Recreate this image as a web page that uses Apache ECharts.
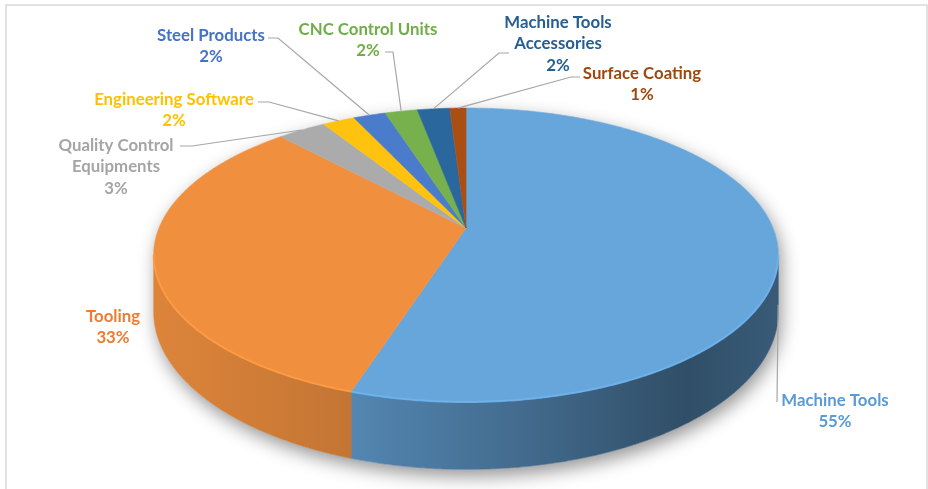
<!DOCTYPE html>
<html><head><meta charset="utf-8">
<script src="https://cdn.jsdelivr.net/npm/echarts@6/dist/echarts.min.js"></script>
<style>html,body{margin:0;padding:0;background:#fff}#c{width:928px;height:489px}</style>
</head><body><div id="c"></div>
<script>
// ---- data ----
const categories = ['Machine Tools', 'Tooling', 'Quality Control\nEquipments', 'Engineering Software',
  'Steel Products', 'CNC Control Units', 'Machine Tools\nAccessories', 'Surface Coating'];
const values = [55, 33, 3, 2, 2, 2, 2, 1];

// ---- styles ----
const topColors = ['#67A6DB', '#F0903F', '#ABABAB', '#FFC20E', '#4A7CCB', '#76B14D', '#2A679C', '#A94F14'];
const labelColors = ['#5B9BD5', '#ED7D31', '#A5A5A5', '#FFC000', '#4472C4', '#70AD47', '#255E91', '#9E480E'];
// label layout: centre x / first-line centre y, leader anchor, horizontal stub, end on bottom rim
const labelLayout = [
  { x: 835, y: 400, anchor: [777, 402], hseg: 0, bottom: true },
  { x: 113, y: 316, anchor: null },
  { x: 116, y: 145, anchor: [180, 146], hseg: 12 },
  { x: 174, y: 99, anchor: [258, 102], hseg: 11 },
  { x: 211, y: 35, anchor: [268, 38], hseg: 10 },
  { x: 368, y: 29, anchor: [385, 52], hseg: 8 },
  { x: 558, y: 22, anchor: [509, 53], hseg: -10 },
  { x: 642, y: 73, anchor: [580, 77], hseg: -9 }
];

// ---- projection geometry (perspective 3D pie) ----
const CX = 466, CY = 228, A = 307, B = 142, K = 0.1837, H = 55;
const TS1 = Math.acos(-K), TS2 = 2 * Math.PI - Math.acos(-K);
const total = values.reduce((s, v) => s + v, 0);
const starts = [];
values.reduce((s, v, i) => { starts[i] = s; return s + v; }, 0);

function proj(t, h) {
  const u = Math.sin(t), v = -Math.cos(t), w = 1 - K * v;
  return [CX + A * u / w, CY + (B * v + H * h) / w];
}
function arc(a, b, h) {
  const pts = [];
  const n = Math.max(2, Math.ceil(Math.abs(b - a) / (Math.PI / 360)));
  for (let i = 0; i <= n; i++) pts.push(proj(a + (b - a) * i / n, h));
  return pts;
}
function shade(hex, f) {
  const n = parseInt(hex.slice(1), 16);
  const r = Math.min(255, Math.round(((n >> 16) & 255) * f));
  const g = Math.min(255, Math.round(((n >> 8) & 255) * f));
  const b = Math.min(255, Math.round((n & 255) * f));
  return 'rgb(' + r + ',' + g + ',' + b + ')';
}

const chart = echarts.init(document.getElementById('c'), null, { renderer: 'canvas' });

function renderItem(params, api) {
  const i = params.dataIndex;
  const val = api.value(0), start = api.value(1);
  const a = start / total * 2 * Math.PI, b = (start + val) / total * 2 * Math.PI;
  const col = topColors[i];
  const children = [];
  if (i === 0) {
    const outline = arc(TS2, TS1 + 2 * Math.PI, 0).concat(arc(TS1, TS2, 1));
    children.push({
      type: 'polygon', z2: 0, shape: { points: outline },
      style: { fill: '#fff', shadowBlur: 18, shadowColor: 'rgba(0,0,0,0.42)', shadowOffsetY: 7, shadowOffsetX: 3 }
    });
  }
  const s = Math.max(a, TS1), e = Math.min(b, TS2);
  if (e > s) {
    const pts = arc(s, e, 0).concat(arc(s, e, 1).reverse());
    const grad = new echarts.graphic.LinearGradient(CX - A * 1.02, 0, CX + A * 1.02, 0, [
      { offset: 0, color: shade(col, 0.92) },
      { offset: 0.3, color: shade(col, 0.82) },
      { offset: 0.6, color: shade(col, 0.64) },
      { offset: 0.85, color: shade(col, 0.47) },
      { offset: 1, color: shade(col, 0.55) }
    ], true);
    children.push({ type: 'polygon', z2: 1, shape: { points: pts }, style: { fill: grad, stroke: grad, lineWidth: 0.6 } });
  }
  const topPts = [[CX, CY]].concat(arc(a, b, 0));
  children.push({ type: 'polygon', z2: 2, shape: { points: topPts }, style: { fill: col, stroke: col, lineWidth: 0.6 } });
  if (e > s) {
    children.push({ type: 'polyline', z2: 3, shape: { points: arc(s, e, 0) },
      style: { fill: null, stroke: shade(col, 1.1), lineWidth: 2, opacity: 0.8 } });
  }
  const L = labelLayout[i];
  if (L.anchor) {
    const mid = (a + b) / 2;
    const end = proj(mid, L.bottom ? 0.95 : 0);
    const p1 = L.anchor, p2 = [L.anchor[0] + L.hseg, L.anchor[1]];
    children.push({ type: 'polyline', z2: 4, shape: { points: [p1, p2, end] },
      style: { fill: null, stroke: '#A6A6A6', lineWidth: 1.2 } });
  }
  const pct = Math.round(val / total * 100) + '%';
  children.push({
    type: 'text', z2: 5,
    style: {
      text: categories[i] + '\n' + pct, x: L.x, y: L.y - 10.5,
      align: 'center', verticalAlign: 'top', lineHeight: 21.5,
      font: 'bold 16.8px Lato', fill: labelColors[i]
    }
  });
  return { type: 'group', children };
}

chart.setOption({
  animation: false,
  backgroundColor: '#fff',
  graphic: [{
    type: 'rect', z: -1, shape: { x: 6, y: 5, width: 921, height: 500 },
    style: { fill: null, stroke: '#D9D9D9', lineWidth: 1.5 }
  }],
  series: [{
    type: 'custom',
    coordinateSystem: 'none',
    renderItem: renderItem,
    data: values.map((v, i) => ({ name: categories[i], value: [v, starts[i]] }))
  }]
});
</script></body></html>
